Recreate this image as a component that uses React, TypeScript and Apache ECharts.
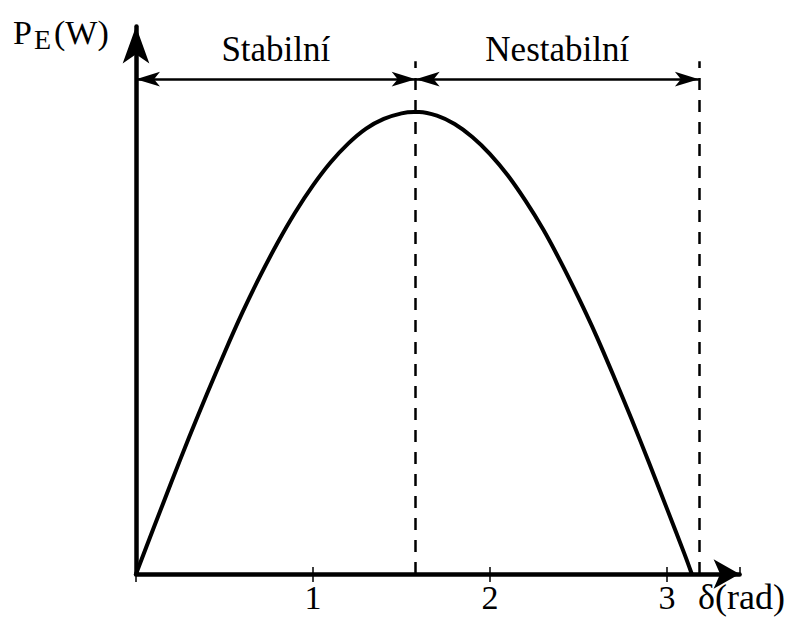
import React, { useEffect, useRef } from "react";
import * as echarts from "echarts";

// Load angle δ (rad) and electrical power P_E
const delta = [0, 0.1, 0.2, 0.3, 0.4, 0.5, 0.6, 0.7, 0.8, 0.9, 1.0, 1.1, 1.2, 1.3, 1.4, 1.5, 1.57, 1.6, 1.7, 1.8, 1.9, 2.0, 2.1, 2.2, 2.3, 2.4, 2.5, 2.6, 2.7, 2.8, 2.9, 3.0, 3.1, 3.14];
const power = [0, 0.1, 0.199, 0.296, 0.389, 0.479, 0.565, 0.644, 0.717, 0.783, 0.841, 0.891, 0.932, 0.964, 0.985, 0.997, 1.0, 1.0, 0.992, 0.974, 0.946, 0.909, 0.863, 0.808, 0.746, 0.675, 0.598, 0.516, 0.427, 0.335, 0.239, 0.141, 0.042, 0];

const xTicks = [1, 2, 3];
// Region boundaries: peak (stability limit) and end of the curve
const peakDelta = 1.58;
const endDelta = 3.18;
const regionLabels = ["Stabilní", "Nestabilní"];
const bracketLevel = 1.071;
const guideTop = 1.11;

const FONT = "'Liberation Serif', 'Times New Roman', serif";

export default function App() {
  const ref = useRef<HTMLDivElement>(null);

  useEffect(() => {
    if (!ref.current) return;
    const chart = echarts.init(ref.current, undefined, { renderer: "svg" });
    const points = delta.map((d, i) => [d, power[i]]);

    const bracketStyle = { color: "#000", width: 2.5, type: "solid" as const };
    const bracketLabel = (text: string) => ({
      show: true,
      position: "insideMiddleTop" as const,
      formatter: text,
      fontFamily: FONT,
      fontSize: 35,
      color: "#000",
      distance: 12,
    });

    chart.setOption({
      animation: false,
      backgroundColor: "#fff",
      grid: { left: 136, right: 45.4, top: 26.5, bottom: 43, containLabel: false },
      xAxis: [
        {
          type: "value",
          min: 0,
          max: 3.41,
          interval: 1,
          axisLine: {
            show: true,
            lineStyle: { color: "#000", width: 4.5 },
            symbol: ["none", "arrow"],
            symbolSize: [22, 26],
          },
          axisTick: { show: true, length: 8, lineStyle: { color: "#000", width: 1.5 } },
          axisLabel: {
            show: true,
            showMaxLabel: false,
            margin: 6,
            fontFamily: FONT,
            fontSize: 34,
            color: "#000",
            formatter: (v: number) => (xTicks.includes(v) ? String(v) : ""),
          },
          splitLine: { show: false },
        },
        {
          type: "value",
          min: 0,
          max: 3.41,
          interval: 1,
          position: "bottom",
          axisLine: { show: false },
          axisTick: { show: true, inside: true, length: 7, lineStyle: { color: "#000", width: 1.5 } },
          axisLabel: { show: false },
          splitLine: { show: false },
        },
      ],
      yAxis: {
        type: "value",
        min: 0,
        max: 1.185,
        axisLine: {
          show: true,
          lineStyle: { color: "#000", width: 4.5 },
          symbol: ["none", "arrow"],
          symbolSize: [20, 37],
        },
        axisTick: { show: false },
        axisLabel: { show: false },
        splitLine: { show: false },
      },
      series: [
        {
          type: "line",
          data: points,
          showSymbol: false,
          symbol: "none",
          smooth: 0.3,
          lineStyle: { color: "#000", width: 4 },
          z: 3,
          markLine: {
            silent: true,
            symbol: ["arrow", "arrow"],
            symbolSize: [11, 24],
            lineStyle: bracketStyle,
            data: [
              [
                { coord: [0, bracketLevel], label: bracketLabel(regionLabels[0]) },
                { coord: [peakDelta, bracketLevel] },
              ],
              [
                { coord: [peakDelta, bracketLevel], label: bracketLabel(regionLabels[1]) },
                { coord: [endDelta, bracketLevel] },
              ],
              [
                { coord: [peakDelta, 0], symbol: "none", lineStyle: { color: "#000", width: 2.5, type: [12, 10] }, label: { show: false } },
                { coord: [peakDelta, guideTop], symbol: "none" },
              ],
              [
                { coord: [endDelta, 0], symbol: "none", lineStyle: { color: "#000", width: 2.5, type: [12, 10] }, label: { show: false } },
                { coord: [endDelta, guideTop], symbol: "none" },
              ],
            ],
          },
        },
      ],
      graphic: [
        { type: "text", left: 13, top: 15, style: { text: "P", font: `34px ${FONT}`, fill: "#000" } },
        { type: "text", left: 34, top: 25, style: { text: "E", font: `28px ${FONT}`, fill: "#000" } },
        { type: "text", left: 54, top: 15, style: { text: "(W)", font: `34px ${FONT}`, fill: "#000" } },
        { type: "text", left: 698, top: 579, style: { text: "δ(rad)", font: `36px ${FONT}`, fill: "#000" } },
      ],
    });

    return () => chart.dispose();
  }, []);

  return (
    <div
      ref={ref}
      style={{ position: "fixed", left: 0, top: 0, width: 785, height: 617, background: "#fff" }}
    />
  );
}
